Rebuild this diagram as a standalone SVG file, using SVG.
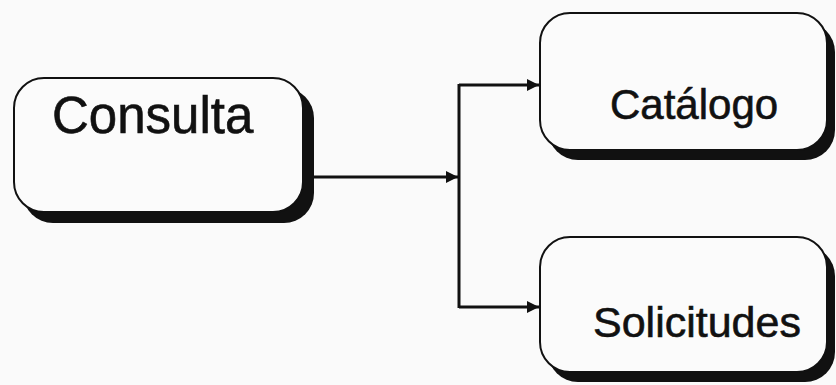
<svg xmlns="http://www.w3.org/2000/svg" width="836" height="385" viewBox="0 0 836 385">
<style>
.shadow{fill:#111}
.box{fill:#fbfbfb;stroke:#111;stroke-width:2}
.lbl{font-family:"Liberation Sans",Arial,sans-serif;fill:#111;stroke:#111;stroke-width:0.6}
.conn{fill:none;stroke:#111;stroke-width:3}
</style>
<defs>
<marker id="arr" viewBox="0 0 10 10" refX="10" refY="5" markerWidth="4.5" markerHeight="4" orient="auto" markerUnits="strokeWidth">
<path d="M0,0 L10,5 L0,10 Z" fill="#111"/>
</marker>
</defs>
<rect width="836" height="385" fill="#fafafa"/>
<g id="consulta">
<rect class="shadow" x="23" y="88" width="291" height="135" rx="30"/>
<rect class="box" x="14" y="78" width="289" height="134" rx="30"/>
<text class="lbl" x="52" y="133" font-size="51">Consulta</text>
</g>
<g id="catalogo">
<rect class="shadow" x="548" y="22" width="287" height="138" rx="30"/>
<rect class="box" x="540" y="13" width="287" height="137" rx="30"/>
<text class="lbl" x="610" y="119" font-size="42">Catálogo</text>
</g>
<g id="solicitudes">
<rect class="shadow" x="548" y="246" width="287" height="136" rx="30"/>
<rect class="box" x="540" y="237" width="287" height="135" rx="30"/>
<text class="lbl" x="593" y="337" font-size="43">Solicitudes</text>
</g>
<g id="connectors">
<path class="conn" d="M314,177 H458" marker-end="url(#arr)"/>
<path class="conn" d="M459,84 V308"/>
<path class="conn" d="M459,85 H539" marker-end="url(#arr)"/>
<path class="conn" d="M459,307 H539" marker-end="url(#arr)"/>
</g>
</svg>
